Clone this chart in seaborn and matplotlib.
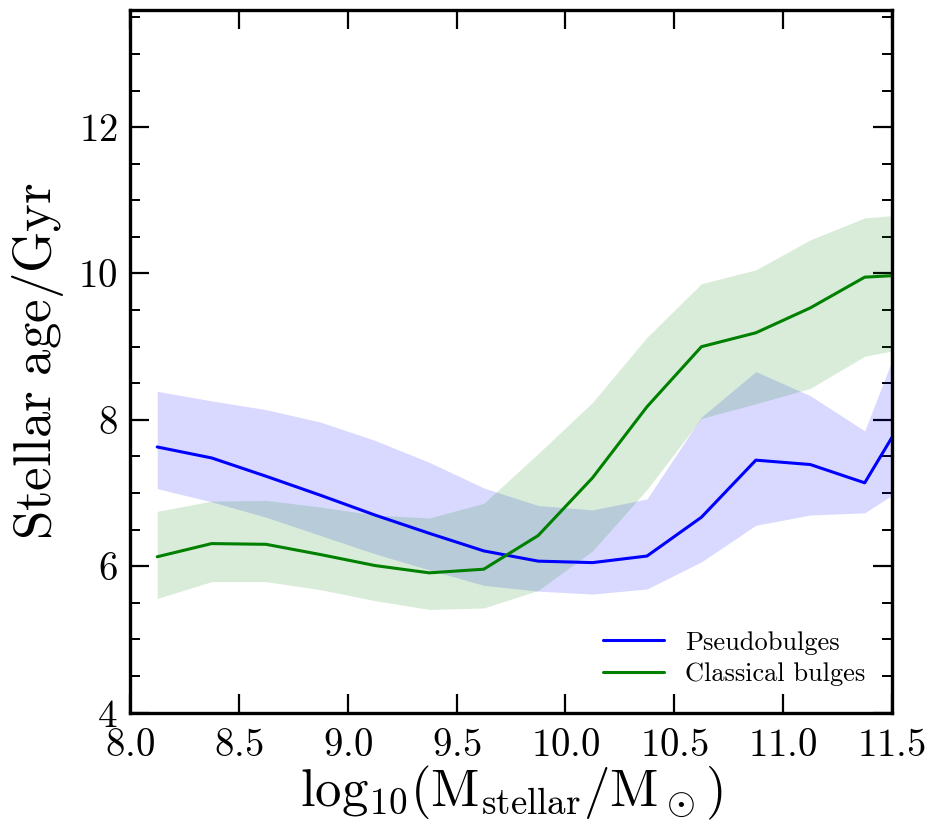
import numpy as np
import pandas as pd
import matplotlib
matplotlib.use('Agg')
import matplotlib.pyplot as plt
from matplotlib.ticker import MultipleLocator
import seaborn as sns

# bin centres in log10 stellar mass (last bin is clipped by the x limit)
mass = [8.125, 8.375, 8.625, 8.875, 9.125, 9.375, 9.625, 9.875,
        10.125, 10.375, 10.625, 10.875, 11.125, 11.375, 11.625]

# pseudobulges: median age and spread
pseudo_age = [7.63, 7.48, 7.23, 6.97, 6.70, 6.45, 6.21, 6.07,
              6.05, 6.14, 6.67, 7.45, 7.39, 7.14, 8.38]
pseudo_lo = [7.06, 6.88, 6.67, 6.42, 6.17, 5.95, 5.74, 5.66,
             5.62, 5.69, 6.06, 6.56, 6.70, 6.73, 7.21]
pseudo_hi = [8.39, 8.26, 8.14, 7.97, 7.72, 7.42, 7.07, 6.83,
             6.77, 6.92, 8.04, 8.66, 8.33, 7.85, 9.77]

# classical bulges
classical_age = [6.13, 6.31, 6.30, 6.16, 6.01, 5.91, 5.96, 6.42,
                 7.21, 8.18, 9.00, 9.19, 9.53, 9.95, 9.99]
classical_lo = [5.56, 5.79, 5.79, 5.68, 5.53, 5.41, 5.43, 5.67,
                6.21, 7.05, 8.02, 8.22, 8.43, 8.87, 9.01]
classical_hi = [6.75, 6.89, 6.90, 6.81, 6.70, 6.66, 6.86, 7.54,
                8.24, 9.13, 9.86, 10.05, 10.46, 10.76, 10.82]

df = pd.DataFrame({
    'mass': mass + mass,
    'age': pseudo_age + classical_age,
    'kind': ['Pseudobulges'] * len(mass) + ['Classical bulges'] * len(mass),
})

sns.set_style('ticks')
plt.rcParams['font.family'] = 'serif'
plt.rcParams['font.serif'] = ['cmr10', 'DejaVu Serif']
plt.rcParams['mathtext.fontset'] = 'cm'
plt.rcParams['axes.formatter.use_mathtext'] = True
plt.rcParams['text.color'] = 'black'
plt.rcParams['axes.labelcolor'] = 'black'
plt.rcParams['axes.edgecolor'] = 'black'
plt.rcParams['xtick.color'] = 'black'
plt.rcParams['ytick.color'] = 'black'

fig, ax = plt.subplots(figsize=(9.32, 8.34), dpi=100)
fig.subplots_adjust(left=0.1395, right=0.957, bottom=0.1455, top=0.988)

ax.fill_between(mass, pseudo_lo, pseudo_hi, color='blue', alpha=0.15, lw=0)
ax.fill_between(mass, classical_lo, classical_hi, color='green', alpha=0.15, lw=0)
sns.lineplot(data=df, x='mass', y='age', hue='kind',
             palette={'Pseudobulges': 'blue', 'Classical bulges': 'green'},
             lw=2.2, ax=ax)

ax.set_xlim(8.0, 11.5)
ax.set_ylim(4, 13.6)
ax.set_xticks(np.arange(8.0, 11.51, 0.5))
ax.set_yticks([4, 6, 8, 10, 12])
ax.yaxis.set_minor_locator(MultipleLocator(0.5))
ax.tick_params(which='major', direction='in', length=14, width=1.6,
               top=True, right=True, labelsize=28)
ax.tick_params(axis='x', pad=11)
ax.tick_params(axis='y', pad=9)
ax.tick_params(which='minor', direction='in', length=7, width=1.4,
               top=False, right=True)
for s in ax.spines.values():
    s.set_linewidth(2.4)
    s.set_color('black')

ax.set_xlabel(r'$\mathrm{log}_{10}(\mathrm{M}_{\mathrm{stellar}}/\mathrm{M}_\odot)$', fontsize=38, labelpad=0)
ax.set_ylabel(r'$\mathrm{Stellar\ age/Gyr}$', fontsize=38, labelpad=9)

ax.legend(loc='lower right', frameon=False, fontsize=19, handlelength=2.3,
          borderaxespad=0.6, labelspacing=0.3)

plt.savefig('out.png', dpi=100)
